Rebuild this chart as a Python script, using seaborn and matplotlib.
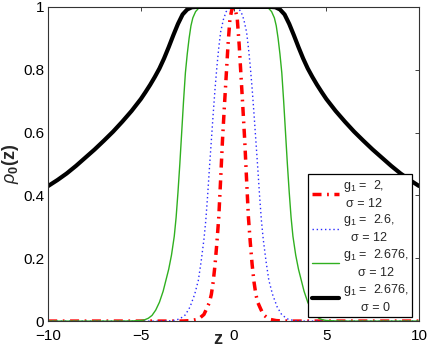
import matplotlib
matplotlib.use('Agg')
import matplotlib.pyplot as plt
import seaborn as sns

# curve g1 = 2, sigma = 12
z_red = [-10, -3.2, -2.7, -2.3, -2.0, -1.8, -1.6, -1.45, -1.3, -1.2, -1.1, -1.0, -0.9, -0.8, -0.7, -0.6, -0.5,
         -0.4, -0.3, -0.2, -0.1, 0,
         0.1, 0.2, 0.3, 0.4, 0.5, 0.6, 0.7, 0.8, 0.9, 1.0, 1.1, 1.2, 1.3, 1.45, 1.6, 1.8, 2.0, 2.3, 2.7, 3.2, 10]
rho_red = [0, 0, 0.0003, 0.0015, 0.005, 0.011, 0.021, 0.04, 0.06, 0.085, 0.125, 0.18, 0.25, 0.33, 0.45, 0.575, 0.68,
           0.78, 0.88, 0.96, 0.99, 1.0,
           0.99, 0.96, 0.88, 0.78, 0.68, 0.575, 0.45, 0.33, 0.25, 0.18, 0.125, 0.085, 0.06, 0.04, 0.021, 0.011,
           0.005, 0.0015, 0.0003, 0, 0]

# curve g1 = 2.6, sigma = 12
z_blue = [-10, -3.8, -3.3, -2.9, -2.6, -2.35, -2.1, -1.9, -1.75, -1.6, -1.5, -1.4, -1.3, -1.2, -1.1, -1.0, -0.9,
          -0.8, -0.7, -0.55, -0.4, -0.2, 0,
          0.2, 0.4, 0.55, 0.7, 0.8, 0.9, 1.0, 1.1, 1.2, 1.3, 1.4, 1.5, 1.6, 1.75, 1.9, 2.1, 2.35, 2.6, 2.9, 3.3,
          3.8, 10]
rho_blue = [0, 0, 0.001, 0.007, 0.02, 0.045, 0.085, 0.13, 0.19, 0.26, 0.32, 0.40, 0.49, 0.575, 0.66, 0.74, 0.81,
            0.87, 0.92, 0.96, 0.985, 0.998, 1.0,
            0.998, 0.985, 0.96, 0.92, 0.87, 0.81, 0.74, 0.66, 0.575, 0.49, 0.40, 0.32, 0.26, 0.19, 0.13, 0.085,
            0.045, 0.02, 0.007, 0.001, 0, 0]

# curve g1 = 2.676, sigma = 12
z_green = [-10, -6.0, -5.5, -5.0, -4.8, -4.6, -4.4, -4.2, -4.0, -3.8, -3.65, -3.5, -3.35, -3.2, -3.1, -3.0, -2.9,
           -2.8, -2.7, -2.6, -2.5, -2.4, -2.3, -2.2, -2.05, -1.9, -1.7, -1.5, 0,
           1.5, 1.7, 1.9, 2.05, 2.2, 2.3, 2.4, 2.5, 2.6, 2.7, 2.8, 2.9, 3.0, 3.1, 3.2, 3.35, 3.5, 3.65, 3.8, 4.0,
           4.2, 4.4, 4.6, 4.8, 5.0, 5.5, 6.0, 10]
rho_green = [0, 0, 0.0005, 0.002, 0.004, 0.009, 0.018, 0.035, 0.06, 0.095, 0.13, 0.165, 0.21, 0.27, 0.33, 0.41,
             0.50, 0.60, 0.70, 0.79, 0.85, 0.90, 0.94, 0.965, 0.985, 0.995, 0.999, 1.0, 1.0,
             1.0, 0.999, 0.995, 0.985, 0.965, 0.94, 0.90, 0.85, 0.79, 0.70, 0.60, 0.50, 0.41, 0.33, 0.27, 0.21,
             0.165, 0.13, 0.095, 0.06, 0.035, 0.018, 0.009, 0.004, 0.002, 0.0005, 0, 0]

# curve g1 = 2.676, sigma = 0
z_black = [-10, -9.5, -9.0, -8.5, -8.0, -7.5, -7.0, -6.5, -6.0, -5.5, -5.0, -4.75, -4.5, -4.25, -4.0, -3.75,
           -3.5, -3.25, -3.0, -2.75, -2.5, -2.25, -2.0, 0,
           2.0, 2.25, 2.5, 2.75, 3.0, 3.25, 3.5, 3.75, 4.0, 4.25, 4.5, 4.75, 5.0, 5.5, 6.0, 6.5, 7.0, 7.5, 8.0,
           8.5, 9.0, 9.5, 10]
rho_black = [0.43, 0.449, 0.47, 0.494, 0.52, 0.546, 0.574, 0.603, 0.635, 0.669, 0.707, 0.729, 0.752, 0.777,
             0.804, 0.836, 0.872, 0.91, 0.946, 0.976, 0.992, 0.999, 1.0, 1.0,
             1.0, 0.999, 0.992, 0.976, 0.946, 0.91, 0.872, 0.836, 0.804, 0.777, 0.752, 0.729, 0.707, 0.669,
             0.635, 0.603, 0.574, 0.546, 0.52, 0.494, 0.47, 0.449, 0.43]

labels = ['g$_1$ =  2,\nσ = 12', 'g$_1$ =  2.6,\nσ = 12',
          'g$_1$ =  2.676,\nσ = 12', 'g$_1$ =  2.676,\nσ = 0']

sns.set_style('white')
plt.rcParams['font.family'] = ['Liberation Sans', 'DejaVu Sans']
plt.rcParams['mathtext.fontset'] = 'custom'
plt.rcParams['mathtext.rm'] = 'Liberation Sans'
plt.rcParams['mathtext.it'] = 'Liberation Sans:italic'
plt.rcParams['mathtext.bf'] = 'Liberation Sans:bold'

fig = plt.figure(figsize=(4.42, 3.46), dpi=100)
ax = fig.add_axes([0.109, 0.072, 0.839, 0.908])

sns.lineplot(x=z_red, y=rho_red, ax=ax, color='#ff0000', lw=2.5,
             linestyle=(0, (2.6, 1.6, 0.5, 1.6)), label=labels[0])
sns.lineplot(x=z_blue, y=rho_blue, ax=ax, color='#2a2aff', lw=1.0,
             linestyle=(0, (1, 2)), label=labels[1])
sns.lineplot(x=z_green, y=rho_green, ax=ax, color='#30b020', lw=1.0, label=labels[2])
sns.lineplot(x=z_black, y=rho_black, ax=ax, color='black', lw=3.0, label=labels[3])

ax.set_xlim(-10, 10)
ax.set_ylim(0, 1)
ax.set_xticks([-10, -5, 0, 5, 10])
ax.set_yticks([0, 0.2, 0.4, 0.6, 0.8, 1])
ax.set_yticklabels(['0', '0.2', '0.4', '0.6', '0.8', '1'])
ax.tick_params(direction='in', top=True, right=True, length=3, width=0.6,
               labelsize=11, pad=3, colors='#222222', labelcolor='black')
ax.tick_params(axis='x', pad=6)
for s in ax.spines.values():
    s.set_color('#333333')
    s.set_linewidth(0.8)

ax.set_xlabel('z', fontsize=13, fontweight='bold')
ax.xaxis.set_label_coords(0.458, -0.03)
ax.set_ylabel(r'$\rho_{\mathbf{0}}\mathbf{(z)}$', fontsize=13)
ax.yaxis.set_label_coords(-0.072, 0.5)

leg = ax.legend(loc='lower right', bbox_to_anchor=(0.982, 0.012), fontsize=9,
                frameon=True, fancybox=False, edgecolor='black', framealpha=1,
                handlelength=2.2, handletextpad=0.3, labelspacing=0.2,
                borderpad=0.3, borderaxespad=0)
leg.get_frame().set_linewidth(0.9)
for t in leg.get_texts():
    t.set_multialignment('center')
    t.set_linespacing(1.45)

fig.savefig('out.png', dpi=100)
